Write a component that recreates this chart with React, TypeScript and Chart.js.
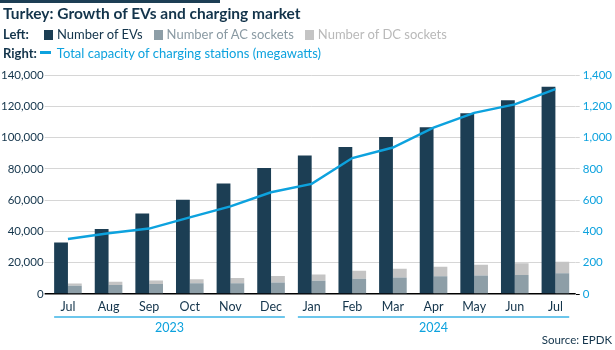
import React, { useEffect, useRef } from "react";
import { Chart, registerables } from "chart.js";
Chart.register(...registerables);

const months = ["Jul", "Aug", "Sep", "Oct", "Nov", "Dec", "Jan", "Feb", "Mar", "Apr", "May", "Jun", "Jul"];
const yearGroups = [
  { label: "2023", from: 0, to: 5 },
  { label: "2024", from: 6, to: 12 },
];
const evs = [33000, 41500, 51500, 60200, 70700, 80500, 88500, 94000, 100400, 106600, 115500, 123800, 132500];
const acSockets = [5300, 5800, 6400, 6800, 6800, 7400, 8500, 9800, 10600, 11300, 11900, 12100, 13200];
const dcSockets = [1400, 2100, 2300, 2600, 3400, 4100, 4000, 5100, 5600, 6100, 6800, 7500, 7400];
const capacityMW = [351, 388, 418, 490, 560, 650, 704, 869, 936, 1064, 1158, 1212, 1310];
const leftTicks = [0, 20000, 40000, 60000, 80000, 100000, 120000, 140000];
const rightTicks = [0, 200, 400, 600, 800, 1000, 1200, 1400];

const NAVY = "#1c3e54";
const AC = "#8d9ea7";
const DC = "#c4c4c4";
const BLUE = "#0da2de";
const FONT = "Lato, 'Open Sans', sans-serif";

const yearPlugin = {
  id: "yearBrackets",
  afterDraw(chart: any) {
    const x = chart.scales.x;
    const ctx = chart.ctx;
    const half = (x.width / months.length) * 0.68 / 2;
    const lineY = chart.chartArea.bottom + 23;
    ctx.save();
    yearGroups.forEach((g) => {
      const x0 = x.getPixelForValue(g.from) - half;
      const x1 = x.getPixelForValue(g.to) + half;
      ctx.strokeStyle = "#6cc6ec";
      ctx.lineWidth = 2;
      ctx.beginPath();
      ctx.moveTo(x0, lineY);
      ctx.lineTo(x1, lineY);
      ctx.stroke();
      ctx.fillStyle = BLUE;
      ctx.font = `12.5px ${FONT}`;
      ctx.textAlign = "center";
      ctx.textBaseline = "middle";
      ctx.fillText(g.label, (x0 + x1) / 2, lineY + 11);
    });
    ctx.restore();
  },
};

export default function App() {
  const ref = useRef<HTMLCanvasElement>(null);
  useEffect(() => {
    document.body.style.margin = "0";
    const chart = new Chart(ref.current!, {
      type: "bar",
      data: {
        labels: months,
        datasets: [
          {
            type: "line",
            label: "Total capacity of charging stations (megawatts)",
            data: capacityMW,
            yAxisID: "y1",
            borderColor: BLUE,
            borderWidth: 2.5,
            pointRadius: 0,
            tension: 0,
            order: 0,
          } as any,
          { label: "Number of EVs", data: evs, backgroundColor: NAVY, stack: "ev", yAxisID: "y", order: 1 },
          { label: "Number of AC sockets", data: acSockets, backgroundColor: AC, stack: "sockets", yAxisID: "y", order: 1 },
          { label: "Number of DC sockets", data: dcSockets, backgroundColor: DC, stack: "sockets", yAxisID: "y", order: 1 },
        ],
      },
      options: {
        animation: false,
        responsive: false,
        maintainAspectRatio: false,
        layout: { padding: { top: 75, left: 0, right: 0, bottom: 31 } },
        datasets: { bar: { barPercentage: 1, categoryPercentage: 0.68 } } as any,
        plugins: { legend: { display: false }, tooltip: { enabled: false } },
        scales: {
          x: {
            stacked: true,
            grid: { display: false, drawTicks: false },
            border: { display: false },
            ticks: { color: "#13344b", font: { family: FONT, size: 12.5 }, padding: 5, maxRotation: 0, autoSkip: false },
          },
          y: {
            position: "left",
            stacked: true,
            min: 0,
            max: 140000,
            afterBuildTicks: (s: any) => { s.ticks = leftTicks.map((v) => ({ value: v })); },
            grid: {
              color: (c: any) => (c.tick && c.tick.value === 0 ? "#000" : "#d6d6d6"),
              lineWidth: (c: any) => (c.tick && c.tick.value === 0 ? 1.5 : 1),
              tickLength: 3,
            },
            border: { display: false },
            ticks: {
              color: "#13344b",
              font: { family: FONT, size: 11.5 },
              padding: 1,
              callback: (v: any) => Number(v).toLocaleString("en-US"),
            },
          },
          y1: {
            position: "right",
            min: 0,
            max: 1400,
            afterBuildTicks: (s: any) => { s.ticks = rightTicks.map((v) => ({ value: v })); },
            grid: {
              drawOnChartArea: false,
              color: (c: any) => (c.tick && c.tick.value === 0 ? "#000" : "#d6d6d6"),
              tickLength: 4,
            },
            border: { display: false },
            ticks: {
              color: BLUE,
              font: { family: FONT, size: 11.5 },
              padding: 3,
              callback: (v: any) => Number(v).toLocaleString("en-US"),
            },
          },
        },
      },
      plugins: [yearPlugin],
    });
    return () => chart.destroy();
  }, []);

  const sw = (c: string) => (
    <span style={{ display: "inline-block", width: 9, height: 10, background: c, marginRight: 4, verticalAlign: "-1px" }} />
  );

  return (
    <div style={{ position: "relative", width: 615, height: 350, fontFamily: FONT, overflow: "hidden", background: "#fff" }}>
      <canvas ref={ref} width={615} height={350} style={{ position: "absolute", left: 0, top: 0 }} />
      <div style={{ position: "absolute", left: 0, top: 0, width: 220, height: 3, background: NAVY }} />
      <div style={{ position: "absolute", left: 3, top: 4, fontSize: 15.5, fontWeight: 700, color: "#13344b", whiteSpace: "nowrap" }}>
        Turkey: Growth of EVs and charging market
      </div>
      <div style={{ position: "absolute", left: 3, top: 26, fontSize: 13, color: "#13344b", whiteSpace: "nowrap" }}>
        <span style={{ fontWeight: 700, display: "inline-block", width: 41 }}>Left:</span>
        {sw(NAVY)}
        <span style={{ color: "#13344b", marginRight: 11 }}>Number of EVs</span>
        {sw(AC)}
        <span style={{ color: "#8a9aa3", marginRight: 11 }}>Number of AC sockets</span>
        {sw(DC)}
        <span style={{ color: "#b9b9b9" }}>Number of DC sockets</span>
      </div>
      <div style={{ position: "absolute", left: 3, top: 45, fontSize: 13, color: "#13344b", whiteSpace: "nowrap" }}>
        <span style={{ fontWeight: 700, marginRight: 3 }}>Right:</span>
        <span style={{ display: "inline-block", width: 11, height: 3, background: BLUE, marginRight: 6, verticalAlign: "4px" }} />
        <span style={{ color: BLUE }}>Total capacity of charging stations (megawatts)</span>
      </div>
      <div style={{ position: "absolute", right: 3, top: 333, fontSize: 11.5, color: "#13344b", whiteSpace: "nowrap" }}>
        Source: EPDK
      </div>
    </div>
  );
}
